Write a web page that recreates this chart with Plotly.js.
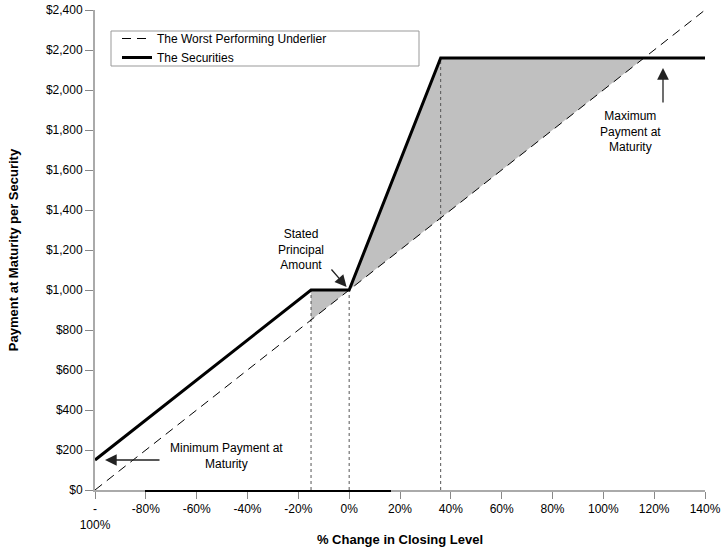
<!DOCTYPE html>
<html>
<head>
<meta charset="utf-8">
<script src="https://cdn.plot.ly/plotly-3.0.1.min.js"></script>
<style>
  html, body { margin: 0; padding: 0; background: #fff; }
  #chart { width: 723px; height: 547px; }
</style>
</head>
<body>
<div id="chart"></div>
<script>
// payoff at maturity
const xUnderlier = [-100, 140];
const yUnderlier = [0, 2400];

const xSecurities = [-100, -15, 0, 36, 140];
const ySecurities = [150, 1000, 1000, 2160, 2160];

// grey area between the securities and the underlier
const shadeX = [-15, 0, 36, 116, 0, -15];
const shadeY = [1000, 1000, 2160, 2160, 1000, 850];

// dotted drop lines (buffer, principal, cap)
const guideX = [-15, 0, 36];
const guideY = [1000, 1000, 2160];

const xTickVals = [-100, -80, -60, -40, -20, 0, 20, 40, 60, 80, 100, 120, 140];
const xTickText = ['-<br>100%', '-80%', '-60%', '-40%', '-20%', '0%', '20%', '40%', '60%', '80%', '100%', '120%', '140%'];

const FONT = '"Liberation Sans", Arial, sans-serif';

// plot area in pixels, used to place legend box and labels
const L = 95, R = 705, T = 10, B = 490;
const px = x => (x - L) / (R - L);
const py = y => (B - y) / (B - T);

const traces = [];

traces.push({
    x: shadeX, y: shadeY,
    type: 'scatter', mode: 'lines',
    fill: 'toself', fillcolor: '#c0c0c0',
    line: { width: 0 },
    showlegend: false, hoverinfo: 'skip'
});

guideX.forEach((gx, i) => {
    traces.push({
        x: [gx, gx], y: [0, guideY[i]],
        type: 'scatter', mode: 'lines',
        line: { color: '#555', width: 1, dash: 'dot' },
        showlegend: false, hoverinfo: 'skip'
    });
});

traces.push({
    x: xUnderlier, y: yUnderlier,
    type: 'scatter', mode: 'lines',
    name: 'The Worst Performing Underlier',
    line: { color: '#000', width: 1, dash: '9px,6px' }
});

traces.push({
    x: xSecurities, y: ySecurities,
    type: 'scatter', mode: 'lines',
    name: 'The Securities',
    line: { color: '#000', width: 3 }
});

const arrow = { showarrow: true, arrowhead: 2, arrowsize: 1.8, arrowwidth: 1.3, arrowcolor: '#222', text: '' };
const label = { showarrow: false, align: 'center', font: { family: FONT, size: 12, color: '#000' } };

const layout = {
    width: 723,
    height: 547,
    margin: { l: L, r: 723 - R, t: T, b: 547 - B },
    paper_bgcolor: '#fff',
    plot_bgcolor: '#fff',
    font: { family: FONT, size: 12, color: '#000' },
    showlegend: true,
    legend: {
        x: px(117), y: py(24), xanchor: 'left', yanchor: 'top',
        bgcolor: 'rgba(0,0,0,0)', borderwidth: 0,
        font: { family: FONT, size: 12, color: '#000' }
    },
    xaxis: {
        range: [-100, 140],
        tickvals: xTickVals,
        ticktext: xTickText,
        ticks: 'outside', ticklen: 7, tickwidth: 1, tickcolor: '#888',
        showline: true, linecolor: '#aaa', linewidth: 2,
        showgrid: false, zeroline: false,
        tickfont: { family: FONT, size: 12, color: '#000' },
        title: { text: '% Change in Closing Level', font: { family: FONT, size: 13, color: '#000', weight: 'bold' }, standoff: 7 }
    },
    yaxis: {
        range: [0, 2400],
        dtick: 200,
        tickprefix: '$',
        tickformat: ',d',
        ticks: 'outside', ticklen: 8, tickwidth: 1, tickcolor: '#888',
        showline: true, linecolor: '#aaa', linewidth: 2,
        showgrid: false, zeroline: false,
        tickfont: { family: FONT, size: 12, color: '#000' },
        title: { text: 'Payment at Maturity per Security', font: { family: FONT, size: 13, color: '#000', weight: 'bold' }, standoff: 24 }
    },
    shapes: [
        // legend frame
        {
            type: 'rect', xref: 'paper', yref: 'paper',
            x0: px(111), x1: px(419), y0: py(66), y1: py(31),
            line: { color: '#999', width: 1 }, fillcolor: '#fff', layer: 'above'
        },
        // dark stretch of the base line
        {
            type: 'line', xref: 'paper', yref: 'paper',
            x0: px(145), x1: px(391), y0: py(491), y1: py(491),
            line: { color: '#000', width: 2 }, layer: 'above'
        }
    ],
    annotations: [
        Object.assign({}, arrow, { x: 0, y: 1000, ax: -19, ay: -22, standoff: 4 }),
        Object.assign({}, label, { x: 0, y: 1000, xshift: -48, yshift: 41, text: 'Stated<br>Principal<br>Amount' }),

        Object.assign({}, arrow, { x: -100, y: 150, ax: 66, ay: 0, standoff: 10 }),
        Object.assign({}, label, { x: -100, y: 150, xshift: 131, yshift: 4, text: 'Minimum Payment at<br>Maturity' }),

        Object.assign({}, arrow, { xref: 'paper', x: px(663), y: 2160, ax: 0, ay: 46, standoff: 10 }),
        Object.assign({}, label, { xref: 'paper', x: px(663), y: 2160, yshift: -73, text: 'Maximum<br>Payment at<br>Maturity' })
    ]
};

Plotly.newPlot('chart', traces, layout, { displayModeBar: false, staticPlot: true });
</script>
</body>
</html>
